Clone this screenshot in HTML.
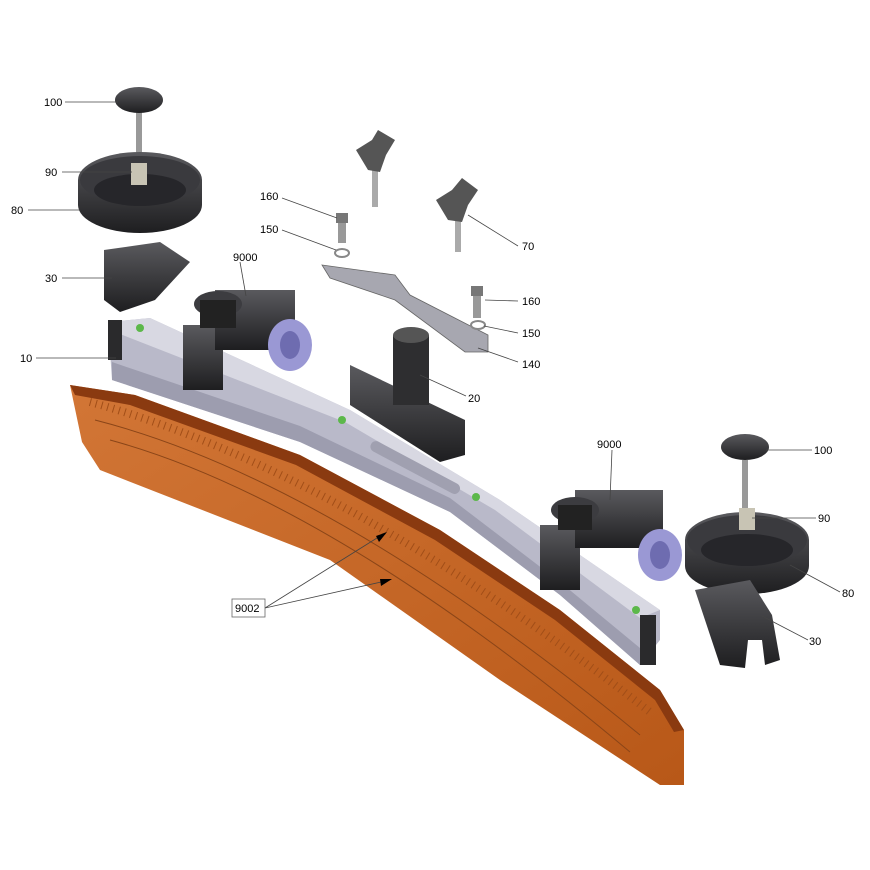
<!DOCTYPE html>
<html><head><meta charset="utf-8"><style>
html,body{margin:0;padding:0;background:#fff}
svg{display:block}
text{font-family:"Liberation Sans",sans-serif;font-size:11px;fill:#000}
</style></head><body>
<svg width="870" height="870" viewBox="0 0 870 870" xmlns="http://www.w3.org/2000/svg">
<defs>
<linearGradient id="blk" x1="0" y1="0" x2="0" y2="1"><stop offset="0" stop-color="#5a5a5e"/><stop offset="1" stop-color="#1e1e20"/></linearGradient>
<linearGradient id="org" x1="0" y1="0" x2="1" y2="1"><stop offset="0" stop-color="#d27636"/><stop offset="1" stop-color="#b85818"/></linearGradient>
</defs>
<!-- orange blade -->
<polygon points="70,385 135,395 300,455 440,530 560,610 660,690 684,730 684,785 660,785 500,680 330,560 100,470 82,442" fill="url(#org)"/>
<polygon points="70,385 135,395 300,455 440,530 560,610 660,690 684,730 674,732 655,700 555,620 435,540 296,465 130,405 75,395" fill="#8a3a10"/>
<g stroke="#8a4518" stroke-width="1" fill="none">
<path d="M95,420 Q330,480 640,735"/>
<path d="M110,440 Q330,500 630,752"/>
<path d="M90,402 Q340,470 650,712" stroke-dasharray="1 5" stroke-width="8" stroke="#a14e18"/>
</g>
<!-- gray bar -->
<polygon points="108,322 150,318 350,410 500,500 660,610 660,640 640,665 560,595 450,512 300,442 112,380" fill="#b9b9c9"/>
<polygon points="108,322 150,318 350,410 500,500 660,610 640,618 495,510 345,422 120,334" fill="#d8d8e2"/>
<polygon points="112,362 300,426 450,498 560,582 640,648 640,665 560,595 450,512 300,442 112,380" fill="#9d9daf"/>
<rect x="108" y="320" width="14" height="40" fill="#2a2a2c"/>
<rect x="640" y="615" width="16" height="50" fill="#2a2a2c"/>
<g fill="#5cb84a"><circle cx="140" cy="328" r="4"/><circle cx="342" cy="420" r="4"/><circle cx="476" cy="497" r="4"/><circle cx="576" cy="566" r="4"/><circle cx="636" cy="610" r="4"/></g>
<rect x="365" y="462" width="100" height="11" rx="5.5" transform="rotate(28 415 468)" fill="#a0a0b0"/>
<!-- 9000 left -->
<rect x="183" y="325" width="40" height="65" fill="url(#blk)"/>
<rect x="215" y="290" width="80" height="60" fill="url(#blk)"/>
<ellipse cx="290" cy="345" rx="22" ry="26" fill="#9a98d4"/><ellipse cx="290" cy="345" rx="10" ry="14" fill="#6e6cb0"/>
<ellipse cx="218" cy="304" rx="24" ry="13" fill="#3c3c40"/><rect x="200" y="300" width="36" height="28" fill="#222"/>
<!-- 9000 right -->
<rect x="540" y="525" width="40" height="65" fill="url(#blk)"/>
<rect x="575" y="490" width="88" height="58" fill="url(#blk)"/>
<ellipse cx="660" cy="555" rx="22" ry="26" fill="#9a98d4"/><ellipse cx="660" cy="555" rx="10" ry="14" fill="#6e6cb0"/>
<ellipse cx="575" cy="510" rx="24" ry="13" fill="#3c3c40"/><rect x="558" y="505" width="34" height="25" fill="#222"/>
<!-- 20 -->
<polygon points="350,365 465,420 465,455 440,462 350,405" fill="url(#blk)"/>
<rect x="393" y="335" width="36" height="70" fill="#2e2e30"/><ellipse cx="411" cy="335" rx="18" ry="8" fill="#555"/>
<!-- 140 plate -->
<polygon points="322,265 395,275 410,295 488,335 488,352 465,352 395,300 330,278" fill="#a7a7b0" stroke="#666" stroke-width="0.8"/>
<!-- screws -->
<rect x="338" y="215" width="8" height="28" fill="#999"/><rect x="336" y="213" width="12" height="10" fill="#777"/>
<ellipse cx="342" cy="253" rx="7" ry="4" fill="none" stroke="#888" stroke-width="2"/>
<rect x="473" y="288" width="8" height="30" fill="#999"/><rect x="471" y="286" width="12" height="10" fill="#777"/>
<ellipse cx="478" cy="325" rx="7" ry="4" fill="none" stroke="#888" stroke-width="2"/>
<!-- 70 wing nuts -->
<rect x="372" y="165" width="6" height="42" fill="#aaa"/><path d="M356,150 L372,140 378,130 395,140 386,155 380,172 368,170 Z" fill="#555"/>
<rect x="455" y="210" width="6" height="42" fill="#aaa"/><path d="M436,200 L452,190 462,178 478,190 468,205 462,222 448,220 Z" fill="#555"/>
<!-- left 80/90/100 -->
<rect x="136" y="112" width="6" height="55" fill="#999"/>
<ellipse cx="139" cy="100" rx="24" ry="13" fill="url(#blk)"/>
<path d="M78,180 A62,28 0 0 1 202,180 L202,205 A62,28 0 0 1 78,205 Z" fill="url(#blk)"/>
<ellipse cx="140" cy="180" rx="60" ry="24" fill="#3a3a3e"/><ellipse cx="140" cy="190" rx="46" ry="16" fill="#26262a"/>
<rect x="131" y="163" width="16" height="22" fill="#c8c4b4"/>
<!-- left 30 -->
<path d="M104,250 L160,242 190,262 155,300 120,312 104,300 Z" fill="url(#blk)"/>
<!-- right 80/90/100 -->
<rect x="742" y="460" width="6" height="55" fill="#999"/>
<ellipse cx="745" cy="447" rx="24" ry="13" fill="url(#blk)"/>
<path d="M685,540 A62,28 0 0 1 809,540 L809,566 A62,28 0 0 1 685,566 Z" fill="url(#blk)"/>
<ellipse cx="747" cy="540" rx="60" ry="25" fill="#3a3a3e"/><ellipse cx="747" cy="550" rx="46" ry="16" fill="#26262a"/>
<rect x="739" y="508" width="16" height="22" fill="#c8c4b4"/>
<!-- right 30 -->
<path d="M695,590 L750,580 772,615 780,660 765,665 762,640 748,640 745,668 720,665 705,620 Z" fill="url(#blk)"/>
<!-- leaders -->
<g stroke="#444" stroke-width="0.8" fill="none">
<line x1="65" y1="102" x2="118" y2="102"/><line x1="62" y1="172" x2="132" y2="172"/>
<line x1="28" y1="210" x2="80" y2="210"/><line x1="62" y1="278" x2="112" y2="278"/>
<line x1="36" y1="358" x2="116" y2="358"/><line x1="240" y1="262" x2="246" y2="296"/>
<line x1="282" y1="198" x2="337" y2="218"/><line x1="282" y1="230" x2="336" y2="250"/>
<line x1="518" y1="246" x2="468" y2="215"/><line x1="518" y1="301" x2="485" y2="300"/>
<line x1="518" y1="333" x2="484" y2="326"/><line x1="518" y1="362" x2="478" y2="348"/>
<line x1="466" y1="396" x2="420" y2="375"/><line x1="612" y1="450" x2="610" y2="500"/>
<line x1="812" y1="450" x2="766" y2="450"/><line x1="816" y1="518" x2="752" y2="518"/>
<line x1="840" y1="592" x2="790" y2="565"/><line x1="808" y1="640" x2="762" y2="616"/>
<line x1="265" y1="608" x2="385" y2="533"/><line x1="265" y1="608" x2="390" y2="580"/>
</g>
<polygon points="387,532 376,536 379,542" fill="#000"/>
<polygon points="392,579 380,579 381,586" fill="#000"/>
<rect x="232" y="599" width="33" height="18" fill="#fff" stroke="#666" stroke-width="0.8"/>
<text x="235" y="612">9002</text>
<text x="44" y="106">100</text><text x="45" y="176">90</text><text x="11" y="214">80</text>
<text x="45" y="282">30</text><text x="20" y="362">10</text><text x="233" y="261">9000</text>
<text x="260" y="200">160</text><text x="260" y="233">150</text><text x="522" y="250">70</text>
<text x="522" y="305">160</text><text x="522" y="337">150</text><text x="522" y="368">140</text>
<text x="468" y="402">20</text><text x="597" y="448">9000</text><text x="814" y="454">100</text>
<text x="818" y="522">90</text><text x="842" y="597">80</text><text x="809" y="645">30</text>
</svg>
</body></html>
